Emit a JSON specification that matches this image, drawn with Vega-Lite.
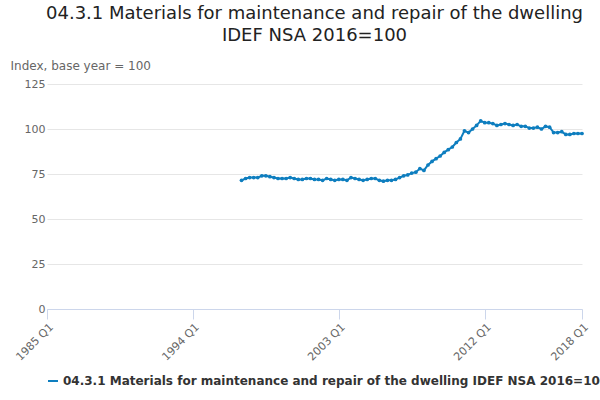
{
  "$schema": "https://vega.github.io/schema/vega-lite/v6.json",
  "width": 535,
  "height": 225,
  "padding": {"left": 10, "top": 5, "right": 5, "bottom": 5},
  "title": {"text": ["04.3.1 Materials for maintenance and repair of the dwelling", "IDEF NSA 2016=100"], "fontSize": 18, "fontWeight": "normal", "font": "DejaVu Sans", "color": "#222", "offset": 14, "lineHeight": 22},
  "config": {"font": "DejaVu Sans", "view": {"stroke": null}},
  "data": {"values": [
    {"t":1997.00,"v":71.5},{"t":1997.25,"v":72.5},{"t":1997.50,"v":73},{"t":1997.75,"v":73},
    {"t":1998.00,"v":73},{"t":1998.25,"v":74},{"t":1998.50,"v":74},{"t":1998.75,"v":73.5},
    {"t":1999.00,"v":73},{"t":1999.25,"v":72.5},{"t":1999.50,"v":72.5},{"t":1999.75,"v":72.5},
    {"t":2000.00,"v":73},{"t":2000.25,"v":72.5},{"t":2000.50,"v":72},{"t":2000.75,"v":72},
    {"t":2001.00,"v":72.5},{"t":2001.25,"v":72.5},{"t":2001.50,"v":72},{"t":2001.75,"v":72},
    {"t":2002.00,"v":71.5},{"t":2002.25,"v":72.5},{"t":2002.50,"v":72},{"t":2002.75,"v":71.5},
    {"t":2003.00,"v":72},{"t":2003.25,"v":72},{"t":2003.50,"v":71.5},{"t":2003.75,"v":73},
    {"t":2004.00,"v":72.5},{"t":2004.25,"v":72},{"t":2004.50,"v":71.5},{"t":2004.75,"v":72},
    {"t":2005.00,"v":72.5},{"t":2005.25,"v":72.5},{"t":2005.50,"v":71.5},{"t":2005.75,"v":71},
    {"t":2006.00,"v":71.5},{"t":2006.25,"v":71.5},{"t":2006.50,"v":72},{"t":2006.75,"v":73},
    {"t":2007.00,"v":74},{"t":2007.25,"v":74.5},{"t":2007.50,"v":75.5},{"t":2007.75,"v":76},
    {"t":2008.00,"v":78},{"t":2008.25,"v":77},{"t":2008.50,"v":80},{"t":2008.75,"v":82},
    {"t":2009.00,"v":83.5},{"t":2009.25,"v":85},{"t":2009.50,"v":87},{"t":2009.75,"v":88.5},
    {"t":2010.00,"v":90},{"t":2010.25,"v":92.5},{"t":2010.50,"v":94.5},{"t":2010.75,"v":99},
    {"t":2011.00,"v":98},{"t":2011.25,"v":100},{"t":2011.50,"v":102},{"t":2011.75,"v":104.5},
    {"t":2012.00,"v":103.5},{"t":2012.25,"v":103.5},{"t":2012.50,"v":103},{"t":2012.75,"v":102},
    {"t":2013.00,"v":102.5},{"t":2013.25,"v":103},{"t":2013.50,"v":102.5},{"t":2013.75,"v":102},
    {"t":2014.00,"v":102.5},{"t":2014.25,"v":101.5},{"t":2014.50,"v":101.5},{"t":2014.75,"v":100.5},
    {"t":2015.00,"v":100.5},{"t":2015.25,"v":101},{"t":2015.50,"v":100},{"t":2015.75,"v":101.5},
    {"t":2016.00,"v":101},{"t":2016.25,"v":98},{"t":2016.50,"v":98},{"t":2016.75,"v":98.5},
    {"t":2017.00,"v":97},{"t":2017.25,"v":97},{"t":2017.50,"v":97.5},{"t":2017.75,"v":97.5},
    {"t":2018.00,"v":97.5}
  ]},
  "mark": {"type": "line", "strokeWidth": 2, "point": {"size": 14, "filled": true}},
  "encoding": {
    "x": {"field": "t", "type": "quantitative", "scale": {"domain": [1985, 2018], "nice": false},
      "axis": {"values": [1985, 1994, 2003, 2012, 2018], "labelExpr": "datum.value + ' Q1'", "labelAngle": -45, "labelColor": "#666", "labelFontSize": 11, "grid": false, "domainColor": "#ccd6eb", "tickColor": "#ccd6eb", "tickSize": 10, "title": null}},
    "y": {"field": "v", "type": "quantitative", "scale": {"domain": [0, 125], "nice": false},
      "axis": {"values": [0, 25, 50, 75, 100, 125], "labelColor": "#666", "labelFontSize": 11, "domain": false, "ticks": false, "gridColor": "#e6e6e6", "title": "Index, base year = 100", "titleAngle": 0, "titleAlign": "left", "titleX": -37, "titleY": -12, "titleFontWeight": "normal", "titleColor": "#666", "titleFontSize": 12}},
    "color": {"datum": "04.3.1 Materials for maintenance and repair of the dwelling IDEF NSA 2016=100", "type": "nominal", "scale": {"range": ["#0e7ebf"]},
      "legend": {"orient": "bottom", "title": null, "labelFontSize": 12, "labelFontWeight": "bold", "labelColor": "#333", "labelLimit": 600, "symbolType": "stroke", "symbolStrokeWidth": 2, "offset": 12}}
  }
}
